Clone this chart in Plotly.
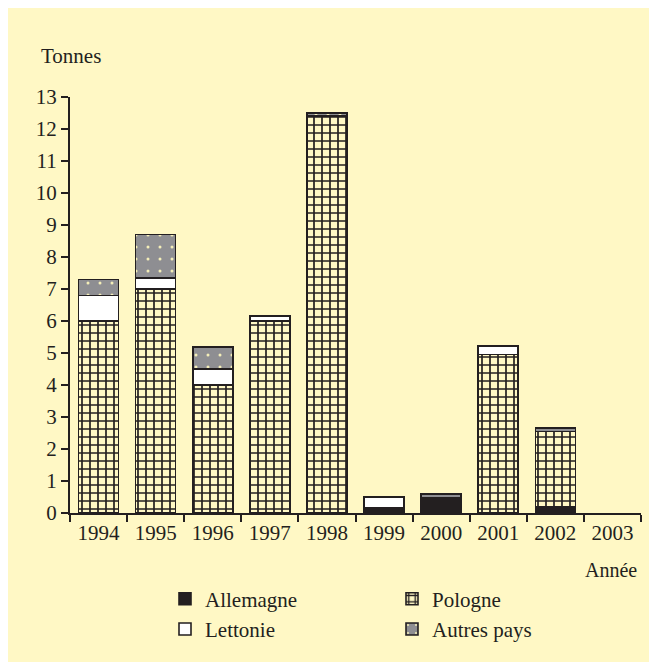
import plotly.graph_objects as go

years = ["1994", "1995", "1996", "1997", "1998", "1999", "2000", "2001", "2002", "2003"]
allemagne = [None, None, None, None, None, 0.15, 0.48, None, 0.2, None]
pologne = [6.0, 7.0, 4.0, 6.0, 12.4, None, None, 4.95, 2.35, None]
lettonie = [0.8, 0.35, 0.5, 0.15, None, 0.35, None, 0.27, None, None]
autres = [0.5, 1.35, 0.68, None, 0.1, None, 0.12, None, 0.1, None]

BG = "#FFF8C5"
INK = "#231F20"
GREY = "#8E8E92"
FONT = "Liberation Serif"
FS = 21

OFF = 8  # page body margin
W, H = 657 - OFF, 662 - OFF
# plot area in screen pixels: x 70..641, y 97..516
ML = 70 - OFF
MT = 97 - OFF
MR = W - (641 - OFF)
MB = H - (516 - OFF)
pw, ph = W - ML - MR, H - MT - MB


def px(xs):
    return (xs - OFF - ML) / pw


def py(ys):
    return (H - MB - (ys - OFF)) / ph


fig = go.Figure()
line = dict(color=INK, width=1.6)
fig.add_bar(x=years, y=allemagne, name="Allemagne", legend="legend",
            marker=dict(color=INK, line=line))
fig.add_bar(x=years, y=pologne, name="Pologne", legend="legend2",
            marker=dict(color=BG, line=line,
                        pattern=dict(shape="+", fgcolor=INK, bgcolor=BG,
                                     size=8, solidity=0.38, fillmode="replace")))
fig.add_bar(x=years, y=lettonie, name="Lettonie", legend="legend",
            marker=dict(color="white", line=line))
fig.add_bar(x=years, y=autres, name="Autres pays", legend="legend2",
            marker=dict(color=GREY, line=line,
                        pattern=dict(shape=".", fgcolor="#F4EEB8", bgcolor=GREY,
                                     size=12, solidity=0.05, fillmode="replace")))

legfont = dict(family=FONT, size=FS, color=INK)
fig.update_layout(
    width=W, height=H,
    margin=dict(l=ML, r=MR, t=MT, b=MB),
    paper_bgcolor=BG, plot_bgcolor=BG,
    barmode="stack", bargap=0.3,
    font=dict(family=FONT, size=FS, color=INK),
    xaxis=dict(type="category", showline=True, linecolor=INK, linewidth=2,
               ticks="outside", tickson="boundaries", ticklen=7, tickwidth=2,
               tickcolor=INK, showgrid=False, range=[-0.5, 9.5], tickangle=0,
               tickfont=dict(family=FONT, size=FS, color=INK)),
    yaxis=dict(range=[0, 13], dtick=1, showline=True, linecolor=INK, linewidth=2,
               ticks="outside", ticklen=7, tickwidth=2, tickcolor=INK,
               showgrid=False, zeroline=False,
               tickfont=dict(family=FONT, size=FS, color=INK)),
    legend=dict(x=px(165), y=py(582), xanchor="left", yanchor="top",
                orientation="v", traceorder="normal",
                bgcolor="rgba(0,0,0,0)", font=legfont, tracegroupgap=0),
    legend2=dict(x=px(392), y=py(582), xanchor="left", yanchor="top",
                 orientation="v", traceorder="normal",
                 bgcolor="rgba(0,0,0,0)", font=legfont, tracegroupgap=0),
    showlegend=True,
)

fig.add_annotation(text="Tonnes", xref="paper", yref="paper",
                   x=px(39), y=py(56), xanchor="left", yanchor="middle",
                   showarrow=False, font=dict(family=FONT, size=FS, color=INK))
fig.add_annotation(text="Année", xref="paper", yref="paper",
                   x=px(639), y=py(573), xanchor="right", yanchor="middle",
                   showarrow=False, font=dict(family=FONT, size=FS - 1, color=INK))

fig.write_html("out.html")
